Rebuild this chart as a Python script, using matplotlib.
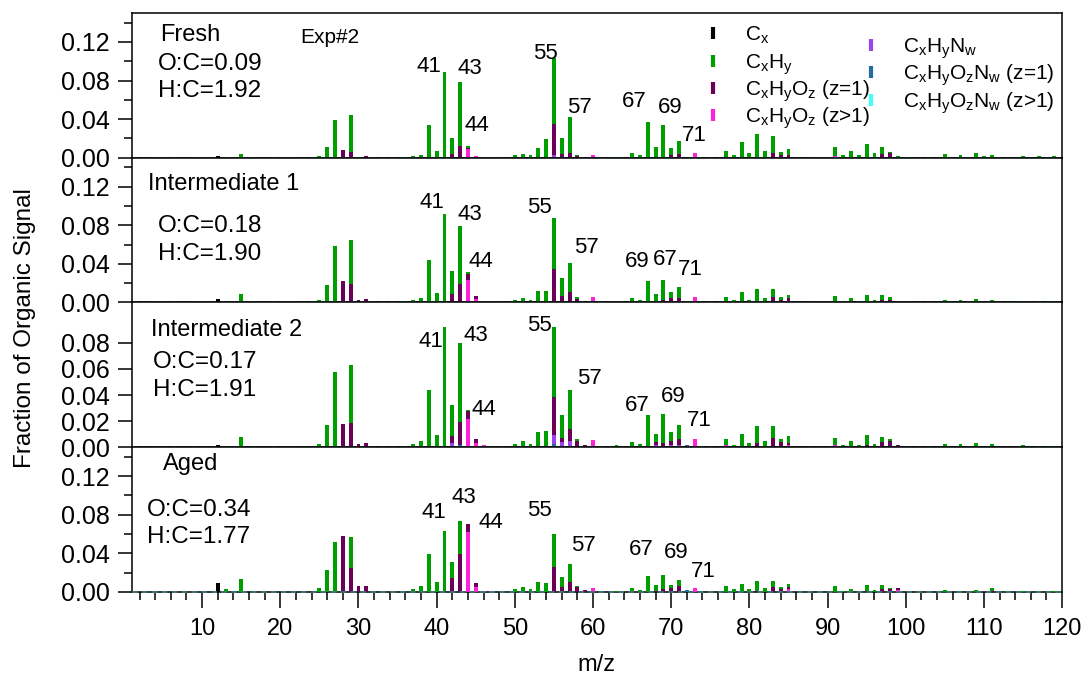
import numpy as np
import matplotlib
matplotlib.use('Agg')
import matplotlib.pyplot as plt
from matplotlib.ticker import MultipleLocator, FixedLocator

plt.rcParams['font.family'] = ['Liberation Sans', 'DejaVu Sans']
plt.rcParams['mathtext.fontset'] = 'custom'
plt.rcParams['mathtext.rm'] = 'Liberation Sans'
plt.rcParams['mathtext.it'] = 'Liberation Sans:italic'
plt.rcParams['mathtext.bf'] = 'Liberation Sans:bold'

#######################################################################################################################
# family colours, stacked bottom -> top
family_names = [r'C$_\mathrm{x}$H$_\mathrm{y}$O$_\mathrm{z}$N$_\mathrm{w}$ (z>1)',
                r'C$_\mathrm{x}$H$_\mathrm{y}$O$_\mathrm{z}$N$_\mathrm{w}$ (z=1)',
                r'C$_\mathrm{x}$H$_\mathrm{y}$N$_\mathrm{w}$',
                r'C$_\mathrm{x}$H$_\mathrm{y}$O$_\mathrm{z}$ (z>1)',
                r'C$_\mathrm{x}$H$_\mathrm{y}$O$_\mathrm{z}$ (z=1)',
                r'C$_\mathrm{x}$H$_\mathrm{y}$',
                r'C$_\mathrm{x}$']
family_colors = ['#40ffff', '#1f6fa0', '#9b45e8', '#ff22d8', '#6a0058', '#009f00', '#000000']

# ---------------- Fresh ----------------
fresh_cx = {12: 0.002}
fresh_cxhy = {13: 0.0007, 15: 0.004, 25: 0.0015, 26: 0.011, 27: 0.039, 29: 0.039, 30: 0.001, 37: 0.0015,
              38: 0.003, 39: 0.034, 40: 0.0073, 41: 0.0888, 42: 0.0165, 43: 0.066, 44: 0.002, 50: 0.003,
              51: 0.004, 52: 0.003, 53: 0.010, 54: 0.019, 55: 0.0687, 56: 0.017, 57: 0.0377, 58: 0.001,
              63: 0.001, 65: 0.0045, 66: 0.003, 67: 0.0367, 68: 0.011, 69: 0.034, 70: 0.007, 71: 0.0137,
              77: 0.006, 78: 0.003, 79: 0.016, 80: 0.005, 81: 0.025, 82: 0.007, 83: 0.017, 84: 0.003,
              85: 0.006, 91: 0.009, 92: 0.003, 93: 0.007, 94: 0.003, 95: 0.014, 96: 0.005, 97: 0.007,
              98: 0.001, 99: 0.002, 105: 0.004, 107: 0.003, 109: 0.005, 110: 0.002, 111: 0.003, 115: 0.002,
              117: 0.002, 119: 0.002}
fresh_oz1 = {28: 0.008, 29: 0.0055, 31: 0.0015, 42: 0.003, 43: 0.012, 44: 0.001, 55: 0.032, 56: 0.003,
             57: 0.005, 58: 0.002, 59: 0.001, 70: 0.003, 71: 0.004, 83: 0.005, 84: 0.003, 85: 0.003,
             97: 0.004, 98: 0.005}
fresh_oz2 = {44: 0.009, 45: 0.002, 60: 0.003, 73: 0.0045, 77: 0.001, 91: 0.001}
fresh_nw = {42: 0.001, 55: 0.002, 56: 0.0005}
fresh_oznw1 = {55: 0.0005}
fresh_oznw2 = {91: 0.001}
fresh_peaks = ['41', '43', '44', '55', '57', '67', '69', '71']
fresh_peak_xy = [(39.0, 0.0946), (44.3, 0.0926), (45.2, 0.0333), (53.9, 0.108), (58.3, 0.052),
                 (65.3, 0.058), (69.9, 0.052), (72.9, 0.023)]

# ---------------- Intermediate 1 ----------------
inter1_cx = {12: 0.0035}
inter1_cxhy = {13: 0.001, 15: 0.0083, 25: 0.0028, 26: 0.0177, 27: 0.058, 29: 0.045, 37: 0.003, 38: 0.005,
               39: 0.0437, 40: 0.0097, 41: 0.0912, 42: 0.0236, 43: 0.0596, 44: 0.0016, 50: 0.003, 51: 0.005,
               52: 0.003, 53: 0.0115, 54: 0.012, 55: 0.0533, 56: 0.0186, 57: 0.0303, 58: 0.002, 65: 0.0045,
               66: 0.0025, 67: 0.0218, 68: 0.007, 69: 0.0199, 70: 0.0062, 71: 0.0111, 77: 0.006, 78: 0.0025,
               79: 0.011, 80: 0.003, 81: 0.0123, 82: 0.0045, 83: 0.0088, 84: 0.003, 85: 0.003, 91: 0.007,
               92: 0.0015, 93: 0.0045, 94: 0.002, 95: 0.008, 96: 0.003, 97: 0.0045, 98: 0.0025, 105: 0.003,
               107: 0.0025, 109: 0.004, 111: 0.003, 115: 0.002, 117: 0.002, 119: 0.0015}
inter1_oz1 = {28: 0.0222, 29: 0.0194, 30: 0.003, 31: 0.004, 42: 0.008, 43: 0.0194, 44: 0.0064, 45: 0.0026,
              55: 0.0347, 56: 0.006, 57: 0.0107, 58: 0.004, 59: 0.002, 69: 0.003, 70: 0.0048, 71: 0.0045,
              81: 0.002, 83: 0.0055, 84: 0.002, 85: 0.003, 97: 0.003, 98: 0.003}
inter1_oz2 = {44: 0.0236, 45: 0.004, 46: 0.002, 60: 0.006, 73: 0.006, 84: 0.001, 85: 0.002}
inter1_nw = {42: 0.001, 56: 0.0005, 68: 0.001}
inter1_oznw1 = {72: 0.002}
inter1_oznw2 = {68: 0.001}
inter1_peaks = ['41', '43', '44', '55', '57', '69', '67', '71']
inter1_peak_xy = [(39.4, 0.104), (44.3, 0.0915), (45.7, 0.0426), (53.1, 0.0988), (59.2, 0.057),
                  (65.6, 0.0426), (69.3, 0.0447), (72.4, 0.0343)]

# ---------------- Intermediate 2 ----------------
inter2_cx = {12: 0.002}
inter2_cxhy = {13: 0.0013, 15: 0.0082, 25: 0.0026, 26: 0.0172, 27: 0.0575, 29: 0.0444, 37: 0.0026,
               38: 0.0046, 39: 0.0426, 40: 0.009, 41: 0.0919, 42: 0.0241, 43: 0.0603, 44: 0.0009, 50: 0.0026,
               51: 0.0046, 52: 0.0026, 53: 0.0116, 54: 0.0118, 55: 0.0539, 56: 0.0175, 57: 0.0295, 58: 0.001,
               61: 0.001, 63: 0.0015, 65: 0.0041, 66: 0.0026, 67: 0.0234, 68: 0.0058, 69: 0.0222, 70: 0.0065,
               71: 0.0103, 77: 0.0047, 78: 0.002, 79: 0.0103, 80: 0.0033, 81: 0.0129, 82: 0.0046, 83: 0.009,
               84: 0.0022, 85: 0.005, 91: 0.0059, 92: 0.0015, 93: 0.0044, 94: 0.0018, 95: 0.008, 96: 0.0026,
               97: 0.0042, 98: 0.0015, 105: 0.0026, 107: 0.0024, 109: 0.0033, 111: 0.0018, 115: 0.0015,
               117: 0.0012, 119: 0.0012}
inter2_oz1 = {28: 0.018, 29: 0.0185, 30: 0.0026, 31: 0.0033, 42: 0.0055, 43: 0.0178, 44: 0.006, 45: 0.0025,
              55: 0.029, 56: 0.0031, 57: 0.0095, 58: 0.005, 59: 0.002, 68: 0.002, 69: 0.002, 70: 0.0036,
              71: 0.0044, 81: 0.003, 83: 0.0069, 84: 0.004, 85: 0.002, 95: 0.0015, 97: 0.004, 98: 0.0045,
              99: 0.0015, 111: 0.0006}
inter2_oz2 = {44: 0.0218, 45: 0.0035, 46: 0.002, 60: 0.0056, 73: 0.0064, 74: 0.001, 77: 0.0015, 85: 0.0015,
              91: 0.0015}
inter2_nw = {39: 0.001, 42: 0.002, 54: 0.001, 55: 0.007, 56: 0.0028, 57: 0.0036, 67: 0.001, 68: 0.002,
             69: 0.001, 70: 0.001, 71: 0.001}
inter2_oznw1 = {42: 0.001, 43: 0.0015, 55: 0.0026, 56: 0.001, 57: 0.001, 70: 0.0005, 71: 0.001, 72: 0.0015}
inter2_oznw2 = {}
inter2_peaks = ['41', '43', '44', '55', '57', '67', '69', '71']
inter2_peak_xy = [(39.3, 0.0814), (45.0, 0.086), (46.1, 0.029), (53.1, 0.0937), (59.5, 0.053),
                  (65.7, 0.032), (70.3, 0.039), (73.6, 0.0206)]

# ---------------- Aged ----------------
aged_cx = {12: 0.009, 24: 0.001}
aged_cxhy = {13: 0.0028, 15: 0.0135, 25: 0.004, 26: 0.0229, 27: 0.0523, 29: 0.0323, 37: 0.003, 38: 0.0059,
             39: 0.0395, 40: 0.010, 41: 0.0624, 42: 0.016, 43: 0.0336, 50: 0.0035, 51: 0.0052, 52: 0.003,
             53: 0.0104, 54: 0.0097, 55: 0.0346, 56: 0.0105, 57: 0.0184, 58: 0.0012, 63: 0.0015, 65: 0.0045,
             66: 0.002, 67: 0.0166, 68: 0.0058, 69: 0.0149, 70: 0.003, 71: 0.0066, 77: 0.0059, 78: 0.003,
             79: 0.0083, 80: 0.003, 81: 0.0099, 82: 0.004, 83: 0.0065, 84: 0.0025, 85: 0.0033, 91: 0.0062,
             92: 0.0015, 93: 0.003, 95: 0.0061, 96: 0.002, 97: 0.0043, 98: 0.001, 105: 0.002, 107: 0.0015,
             109: 0.0025, 111: 0.0025, 113: 0.0015, 115: 0.0015, 117: 0.001, 119: 0.001}
aged_oz1 = {28: 0.0582, 29: 0.0246, 30: 0.0062, 31: 0.0062, 41: 0.001, 42: 0.0149, 43: 0.0395, 44: 0.009,
            45: 0.0035, 55: 0.0257, 56: 0.0055, 57: 0.0107, 58: 0.005, 59: 0.0025, 68: 0.0015, 69: 0.0028,
            70: 0.004, 71: 0.0059, 81: 0.0015, 83: 0.0049, 84: 0.003, 85: 0.002, 95: 0.0015, 97: 0.003,
            98: 0.003, 99: 0.002, 111: 0.0015}
aged_oz2 = {44: 0.0617, 45: 0.0055, 46: 0.0015, 60: 0.004, 73: 0.0045, 85: 0.003, 99: 0.002}
aged_nw = {47: 0.001}
aged_oznw1 = {72: 0.002}
aged_oznw2 = {}
aged_peaks = ['41', '43', '44', '55', '57', '67', '69', '71']
aged_peak_xy = [(39.7, 0.082), (43.5, 0.098), (47.0, 0.072), (53.2, 0.084), (58.8, 0.048),
                (66.2, 0.0437), (70.6, 0.0406), (74.1, 0.0208)]

panel_names = ['Fresh', 'Intermediate 1', 'Intermediate 2', 'Aged']
panel_oc = ['O:C=0.09', 'O:C=0.18', 'O:C=0.17', 'O:C=0.34']
panel_hc = ['H:C=1.92', 'H:C=1.90', 'H:C=1.91', 'H:C=1.77']

#######################################################################################################################

mz_axis = np.arange(1, 121)


def stacked_spectrum(ax, families):
    bottom = np.zeros(mz_axis.size)
    for values, color in zip(families, family_colors):
        h = np.zeros(mz_axis.size)
        for k, v in values.items():
            h[k - 1] = v
        keep = h > 0
        if keep.any():
            ax.bar(mz_axis[keep], h[keep], width=0.5, bottom=bottom[keep], color=color,
                   linewidth=0, zorder=3)
        bottom += h
    ax.axhline(0, color='#3a7a7a', lw=1.3, ls=(0, (3, 2.5)), zorder=4, clip_on=False)


panels = [
    ([fresh_oznw2, fresh_oznw1, fresh_nw, fresh_oz2, fresh_oz1, fresh_cxhy, fresh_cx], fresh_peaks, fresh_peak_xy),
    ([inter1_oznw2, inter1_oznw1, inter1_nw, inter1_oz2, inter1_oz1, inter1_cxhy, inter1_cx], inter1_peaks, inter1_peak_xy),
    ([inter2_oznw2, inter2_oznw1, inter2_nw, inter2_oz2, inter2_oz1, inter2_cxhy, inter2_cx], inter2_peaks, inter2_peak_xy),
    ([aged_oznw2, aged_oznw1, aged_nw, aged_oz2, aged_oz1, aged_cxhy, aged_cx], aged_peaks, aged_peak_xy),
]

# where the sample name and ratios sit in each panel (axes fraction)
name_xy = [(0.0304, 0.847), (0.0175, 0.821), (0.0207, 0.807), (0.0336, 0.883)]
oc_xy = [(0.0283, 0.646), (0.0283, 0.531), (0.0229, 0.586), (0.0164, 0.566)]
hc_xy = [(0.0283, 0.458), (0.0283, 0.338), (0.0229, 0.393), (0.0164, 0.379)]

fig, axs = plt.subplots(4, 1, sharex=True, figsize=(10.86, 6.82), dpi=100)
fig.subplots_adjust(left=0.1213, right=0.978, top=0.981, bottom=0.132, hspace=0)

for i, (ax, (families, peaks, peak_xy)) in enumerate(zip(axs, panels)):

    stacked_spectrum(ax, families)

    if i == 2:
        ax.set_ylim(0, 0.111)
        ax.yaxis.set_major_locator(FixedLocator([0, 0.02, 0.04, 0.06, 0.08]))
    else:
        ax.set_ylim(0, 0.15)
        ax.yaxis.set_major_locator(FixedLocator([0, 0.04, 0.08, 0.12]))
        ax.yaxis.set_minor_locator(FixedLocator([0.02, 0.06, 0.10, 0.14]))
    ax.yaxis.set_major_formatter(plt.FuncFormatter(lambda v, p: '{:.2f}'.format(v)))

    ax.tick_params(axis='y', which='major', direction='out', length=10, width=1.1, labelsize=18, pad=6)
    ax.tick_params(axis='y', which='minor', direction='out', length=6, width=1.1)
    ax.tick_params(axis='x', which='both', bottom=(i == 3), top=False)
    for s in ax.spines.values():
        s.set_linewidth(1.1)

    for txt, (px, py) in zip(peaks, peak_xy):
        ax.text(px, py, txt, fontsize=16, ha='center', va='center', zorder=5)

    ax.text(*name_xy[i], panel_names[i], transform=ax.transAxes, fontsize=17, va='center')
    ax.text(*oc_xy[i], panel_oc[i], transform=ax.transAxes, fontsize=17.5, va='center')
    ax.text(*hc_xy[i], panel_hc[i], transform=ax.transAxes, fontsize=17.5, va='center')

axs[0].text(0.181, 0.833, 'Exp#2', transform=axs[0].transAxes, fontsize=15, va='center')

# key in the top panel: two columns, the right one set a half row lower
ax = axs[0]
key_rows = [(6, 0.625, 0.861), (5, 0.625, 0.667), (4, 0.625, 0.479), (3, 0.625, 0.292),
            (2, 0.795, 0.778), (1, 0.795, 0.590), (0, 0.795, 0.396)]
for k, sx, sy in key_rows:
    ax.plot([sx], [sy], transform=ax.transAxes, marker='|', ls='none', color=family_colors[k],
            markersize=8, markeredgewidth=3, clip_on=False, zorder=6)
    ax.text(sx + 0.034, sy - 0.05, family_names[k], transform=ax.transAxes, fontsize=15,
            va='baseline', ha='left', zorder=6)

ax = axs[3]
ax.set_xlim(1, 120)
ax.xaxis.set_major_locator(MultipleLocator(10))
ax.xaxis.set_minor_locator(MultipleLocator(2))
ax.tick_params(axis='x', which='major', direction='out', length=11.5, width=1.1, labelsize=17, pad=7)
ax.tick_params(axis='x', which='minor', direction='out', length=5.5, width=1.1)

fig.text(0.549, 0.025, 'm/z', fontsize=17, ha='center', va='center')
fig.text(0.023, 0.519, 'Fraction of Organic Signal', fontsize=17.5, rotation=90, ha='center', va='center')

fig.savefig('out.png', dpi=100)
